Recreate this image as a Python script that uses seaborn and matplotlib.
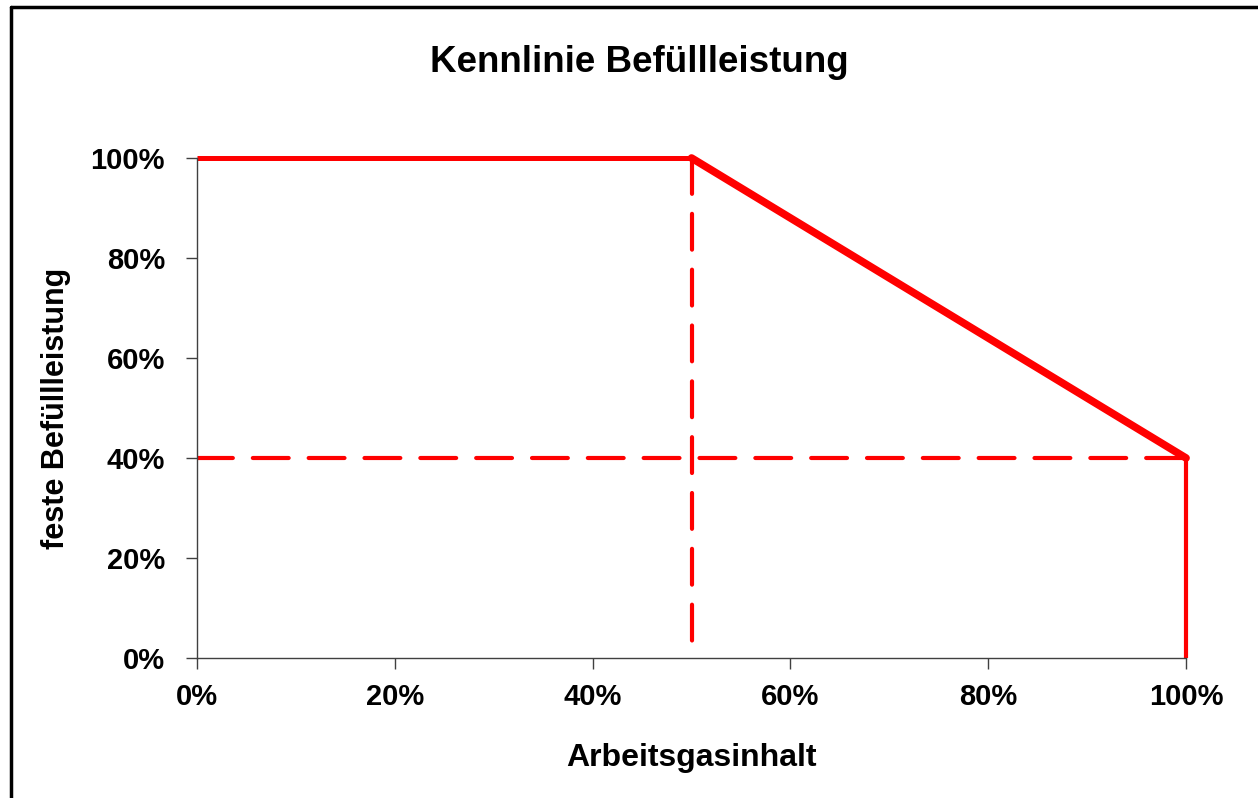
import seaborn as sns
import matplotlib.pyplot as plt
import pandas as pd
from matplotlib.lines import Line2D
from matplotlib.ticker import PercentFormatter

# Kennlinie (Arbeitsgasinhalt in %, Befuellleistung in %)
flat_x = [0, 50]
flat_y = [100, 100]
slope_x = [50, 100]
slope_y = [100, 40]
drop_x = [100, 100]
drop_y = [40, 0]
hline_x = [0, 100]
hline_y = [40, 40]
vline_x = [50, 50]
vline_y = [100, 0]
ticks = [0, 20, 40, 60, 80, 100]

sns.set_style("white")
plt.rcParams['font.family'] = ['Liberation Sans', 'DejaVu Sans']
plt.rcParams['font.weight'] = 'bold'
plt.rcParams['text.color'] = 'black'
plt.rcParams['axes.labelcolor'] = 'black'
plt.rcParams['xtick.color'] = 'black'
plt.rcParams['ytick.color'] = 'black'

fig = plt.figure(figsize=(12.58, 7.98), dpi=100)
ax = fig.add_axes([0.1566, 0.1754, 0.7862, 0.6266])

red = '#ff0000'
dash = (8.6, 4.8)
sns.lineplot(x=hline_x, y=hline_y, ax=ax, color=red, lw=3, estimator=None,
             linestyle=(0, dash), dash_capstyle='round')
sns.lineplot(x=vline_x, y=vline_y, ax=ax, color=red, lw=3, estimator=None,
             linestyle=(0, dash), dash_capstyle='round', sort=False)
sns.lineplot(x=flat_x, y=flat_y, ax=ax, color=red, lw=3.6, estimator=None,
             solid_capstyle='butt', clip_on=False)
sns.lineplot(x=slope_x, y=slope_y, ax=ax, color=red, lw=5.5, estimator=None,
             solid_capstyle='round', clip_on=False)
sns.lineplot(x=drop_x, y=drop_y, ax=ax, color=red, lw=3, estimator=None,
             solid_capstyle='butt', sort=False, clip_on=False)

ax.set_xlim(0, 100)
ax.set_ylim(0, 100)
ax.set_xticks(ticks)
ax.set_yticks(ticks)
ax.xaxis.set_major_formatter(PercentFormatter(decimals=0))
ax.yaxis.set_major_formatter(PercentFormatter(decimals=0))
ax.tick_params(axis='both', direction='out', length=8, width=1, color='#404040',
               labelcolor='black', labelsize=21, bottom=True, left=True)
ax.tick_params(axis='x', pad=10)
ax.tick_params(axis='y', pad=15)
for lab in ax.get_xticklabels() + ax.get_yticklabels():
    lab.set_fontweight('bold')
for s in ['top', 'right']:
    ax.spines[s].set_visible(False)
for s in ['left', 'bottom']:
    ax.spines[s].set_color('#404040')
    ax.spines[s].set_linewidth(1)

ax.set_xlabel('Arbeitsgasinhalt', fontsize=23, fontweight='bold', labelpad=23)
ax.set_ylabel('feste Befüllleistung', fontsize=22, fontweight='bold', labelpad=14)
fig.text(0.508, 0.922, 'Kennlinie Befüllleistung', fontsize=26.5, fontweight='bold',
         ha='center', va='center')

# Rahmen links und oben
fig.add_artist(Line2D([0.0085, 0.0085], [0, 0.991], color='black', lw=2.5,
                      transform=fig.transFigure))
fig.add_artist(Line2D([0.0085, 1], [0.991, 0.991], color='black', lw=2.5,
                      transform=fig.transFigure))

plt.savefig('out.png', dpi=100)
